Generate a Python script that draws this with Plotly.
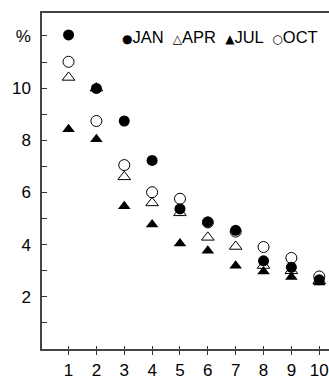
import plotly.graph_objects as go

x_vals = [1, 2, 3, 4, 5, 6, 7, 8, 9, 10]
jan = [12.04, 9.99, 8.74, 7.23, 5.37, 4.87, 4.55, 3.38, 3.13, 2.65]
apr = [10.41, 10.0, 6.60, 5.60, 5.22, 4.28, 3.93, 3.20, 3.00, 2.62]
jul = [8.42, 8.04, 5.47, 4.77, 4.04, 3.77, 3.19, 2.97, 2.76, 2.55]
oct_ = [11.01, 8.74, 7.05, 6.01, 5.76, 4.85, 4.50, 3.91, 3.49, 2.78]

y_tickvals = [1, 2, 3, 4, 5, 6, 7, 8, 9, 10, 11, 12]
y_ticktext = ["", "2", "", "4", "", "6", "", "8", "", "10", "", "%"]
x_tickvals = [1, 2, 3, 4, 5, 6, 7, 8, 9, 10]
x_ticktext = ["1", "2", "3", "4", "5", "6", "7", "8", "9", "10"]

FONT = "Liberation Sans, Arial, sans-serif"

fig = go.Figure()
fig.add_trace(go.Scatter(x=x_vals, y=oct_, mode="markers", name="OCT",
                         marker=dict(symbol="circle-open", size=11, color="black", line=dict(width=1, color="#222"))))
fig.add_trace(go.Scatter(x=x_vals, y=apr, mode="markers", name="APR",
                         marker=dict(symbol="triangle-up-open", size=11, color="black", line=dict(width=1, color="#222"))))
fig.add_trace(go.Scatter(x=x_vals, y=jan, mode="markers", name="JAN",
                         marker=dict(symbol="circle", size=11, color="black")))
fig.add_trace(go.Scatter(x=x_vals, y=jul, mode="markers", name="JUL", xaxis="x2",
                         marker=dict(symbol="triangle-up", size=11, color="black")))

W, H = 329, 376
ml, mt, mb, mr = 42, 13, 27, 0
pw = W - ml - mr
ph = H - mt - mb

def px_to_paper_x(px):
    return (px - ml) / pw

def px_to_paper_y(py):
    return 1 - (py - mt) / ph

sym = '<span style="font-family:DejaVu Sans;font-size:12px">{}</span>'
legend_text = (sym.format("●") + "JAN  " + sym.format("△") + "APR  " +
               sym.format("▲") + "JUL  " + sym.format("○") + "OCT")

fig.add_annotation(text=legend_text, xref="paper", yref="paper",
                   x=px_to_paper_x(120), y=px_to_paper_y(37),
                   xanchor="left", yanchor="middle", showarrow=False,
                   font=dict(family=FONT, size=16.5, color="black"))

xrange = [0.047, 10.35]

fig.update_layout(
    width=W, height=H,
    margin=dict(l=ml, r=mr, t=mt, b=mb, pad=0, autoexpand=False),
    paper_bgcolor="white", plot_bgcolor="white",
    showlegend=False,
    font=dict(family=FONT, size=17, color="black"),
    xaxis=dict(range=xrange, tickvals=x_tickvals, ticktext=x_ticktext,
               ticks="outside", ticklen=4, tickwidth=1, tickcolor="#333",
               showline=True, linecolor="#444", linewidth=1.5, mirror=True,
               showgrid=False, zeroline=False, ticklabelstandoff=1,
               ticklabeloverflow="allow", automargin=False),
    xaxis2=dict(range=xrange, matches="x", overlaying="x", side="bottom",
                tickvals=x_tickvals, ticks="inside", ticklen=3, tickwidth=1,
                tickcolor="#333", showticklabels=False, showline=False,
                showgrid=False, zeroline=False, automargin=False),
    yaxis=dict(range=[0, 12.88], tickvals=y_tickvals, ticktext=y_ticktext,
               ticks="inside", ticklen=5, tickwidth=1, tickcolor="#333",
               showline=True, linecolor="#444", linewidth=1.5,
               showgrid=False, zeroline=False, ticklabelstandoff=6, automargin=False),
)

fig.write_html("out.html", config={"displayModeBar": False},
               post_script="document.body.style.margin='0';document.body.style.overflow='hidden';")
